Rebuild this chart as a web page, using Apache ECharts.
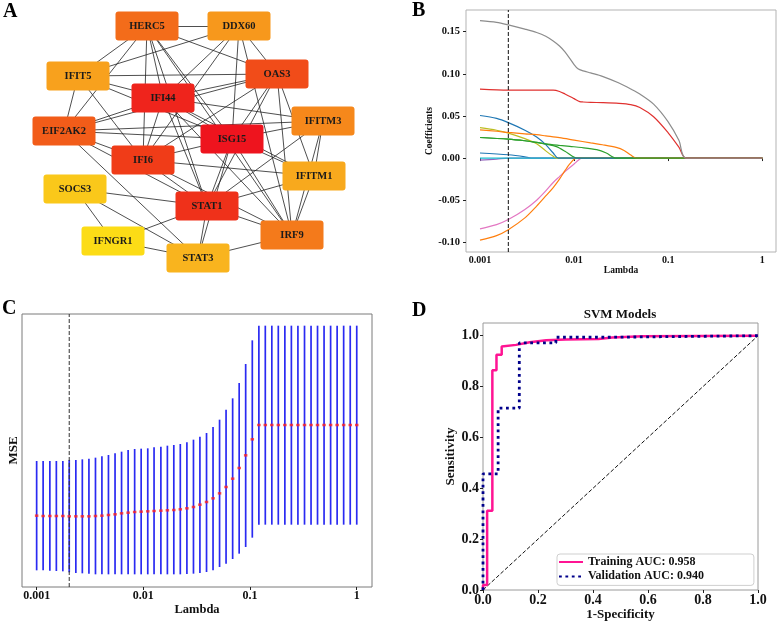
<!DOCTYPE html>
<html>
<head>
<meta charset="UTF-8" />
<title>Hub genes / LASSO / SVM</title>
<script src="https://cdn.jsdelivr.net/npm/echarts@6.0.0/dist/echarts.min.js"></script>
<style>
* { margin: 0; padding: 0; }
html, body { background: #fff; }
#main { width: 777px; height: 622px; }
</style>
</head>
<body>
<div id="main"></div>
<script>
const serif = 'Liberation Serif'

// ---------- A: PPI network (node layout on a hidden 380x300 plane)
const genes  = ['HERC5','DDX60','IFIT5','OAS3','IFI44','IFITM3','EIF2AK2','ISG15','IFI6','IFITM1','SOCS3','STAT1','IRF9','IFNGR1','STAT3']
const geneX  = [147, 239, 78, 277, 163, 323, 64, 232, 143, 314, 75, 207, 292, 113, 198]
const geneY  = [26, 26, 76, 74, 98, 121, 131, 139, 160, 176, 189, 206, 235, 241, 258]
const geneScore = [64, 45, 40, 76, 93, 52, 70, 100, 82, 36, 20, 87, 58, 10, 30]
const ppiLinks = [
  ['HERC5','DDX60'],['HERC5','IFIT5'],['HERC5','EIF2AK2'],['HERC5','OAS3'],['HERC5','IFI44'],['HERC5','IFI6'],['HERC5','ISG15'],['HERC5','STAT1'],['HERC5','IRF9'],
  ['DDX60','IFIT5'],['DDX60','OAS3'],['DDX60','IFI44'],['DDX60','ISG15'],['DDX60','IFI6'],['DDX60','IRF9'],
  ['IFIT5','OAS3'],['IFIT5','IFI44'],['IFIT5','EIF2AK2'],['IFIT5','IFI6'],['IFIT5','ISG15'],
  ['OAS3','IFI44'],['OAS3','EIF2AK2'],['OAS3','IFI6'],['OAS3','ISG15'],['OAS3','STAT1'],['OAS3','IRF9'],['OAS3','IFITM1'],
  ['IFI44','IFITM3'],['IFI44','EIF2AK2'],['IFI44','ISG15'],['IFI44','IFI6'],['IFI44','STAT1'],['IFI44','IRF9'],['IFI44','IFITM1'],
  ['IFITM3','EIF2AK2'],['IFITM3','ISG15'],['IFITM3','STAT1'],['IFITM3','IRF9'],['IFITM3','IFITM1'],
  ['EIF2AK2','ISG15'],['EIF2AK2','IFI6'],['EIF2AK2','STAT1'],['EIF2AK2','STAT3'],
  ['ISG15','IFI6'],['ISG15','STAT1'],['ISG15','IRF9'],['ISG15','IFITM1'],['ISG15','STAT3'],
  ['IFI6','STAT1'],['IFI6','IFITM1'],['IFI6','IRF9'],
  ['IFITM1','STAT1'],['IFITM1','IRF9'],
  ['SOCS3','STAT1'],['SOCS3','IFNGR1'],['SOCS3','STAT3'],
  ['STAT1','IRF9'],['STAT1','STAT3'],['STAT1','IFNGR1'],
  ['IRF9','STAT3'],['IFNGR1','STAT3']
]
const scorePalette = ['#fcdc16','#f9b81e','#f7961c','#f36c1a','#f03c18','#ee141e']

// ---------- B: LASSO coefficient paths [lambda, coef]
const pathDarkBlue = [[0.001,0.006],[0.002,0.0039],[0.003,0.0015],[0.0035,0],[1,0]]
const pathPurple   = [[0.001,-0.0025],[0.0015,-0.0012],[0.002,0],[1,0]]
const pathCyan     = [[0.001,0],[1,0]]
const pathOlive    = [[0.001,0.036],[0.0015,0.033],[0.002,0.0296],[0.003,0.023],[0.004,0.017],[0.005,0.0085],[0.006,0.002],[0.0065,0],[1,0]]
const pathPink     = [[0.001,-0.084],[0.0015,-0.079],[0.002,-0.073],[0.003,-0.061],[0.004,-0.05],[0.005,-0.039],[0.006,-0.029],[0.007,-0.022],[0.008,-0.016],[0.01,-0.007],[0.011,-0.003],[0.012,0],[1,0]]
const pathOrangeLo = [[0.001,-0.0975],[0.0015,-0.092],[0.002,-0.085],[0.003,-0.071],[0.004,-0.057],[0.005,-0.045],[0.006,-0.035],[0.007,-0.025],[0.008,-0.015],[0.009,-0.007],[0.0106,0],[1,0]]
const pathGreenB   = [[0.001,0.0244],[0.002,0.0225],[0.003,0.0205],[0.004,0.0185],[0.005,0.0165],[0.0065,0.0135],[0.008,0.008],[0.0095,0.0025],[0.0106,0],[1,0]]
const pathBlue     = [[0.001,0.0505],[0.0015,0.047],[0.002,0.042],[0.003,0.033],[0.004,0.025],[0.005,0.016],[0.006,0.006],[0.0068,0],[1,0]]
const pathOrangeUp = [[0.001,0.0335],[0.0015,0.0318],[0.002,0.0304],[0.003,0.0288],[0.004,0.0277],[0.005,0.0263],[0.007,0.0242],[0.01,0.0213],[0.015,0.018],[0.02,0.0158],[0.028,0.0126],[0.034,0.009],[0.04,0.0035],[0.046,0],[1,0]]
const pathGreenA   = [[0.001,0.0244],[0.002,0.0225],[0.003,0.0205],[0.004,0.0185],[0.005,0.0168],[0.007,0.015],[0.009,0.0138],[0.012,0.0125],[0.0174,0.0099],[0.022,0.006],[0.028,0],[1,0]]
const pathRed      = [[0.001,0.0818],[0.002,0.0805],[0.004,0.0805],[0.006,0.0805],[0.007,0.079],[0.008,0.076],[0.01,0.0705],[0.0115,0.067],[0.0125,0.0665],[0.015,0.066],[0.02,0.0658],[0.03,0.065],[0.04,0.0635],[0.05,0.06],[0.07,0.049],[0.1,0.03],[0.13,0.013],[0.155,0],[1,0]]
const pathGray     = [[0.001,0.163],[0.0015,0.161],[0.002,0.158],[0.003,0.153],[0.004,0.149],[0.005,0.1445],[0.006,0.139],[0.007,0.133],[0.008,0.126],[0.01,0.111],[0.011,0.106],[0.0125,0.1035],[0.015,0.101],[0.02,0.097],[0.03,0.089],[0.04,0.082],[0.05,0.076],[0.07,0.064],[0.1,0.043],[0.13,0.021],[0.155,0],[1,0]]
const bestLambda = 0.002
const lassoCoefRange = [-0.1115, 0.1757]

// ---------- C: cross-validation MSE
const cvLambda = [0.001,0.00115,0.00133,0.00153,0.00176,0.00202,0.00233,0.00268,0.00309,0.00356,
  0.00409,0.00471,0.00543,0.00625,0.0072,0.00829,0.00954,0.011,0.0126,0.0146,
  0.0168,0.0193,0.0222,0.0256,0.0295,0.0339,0.0391,0.045,0.0518,0.0596,
  0.0687,0.0791,0.091,0.105,0.121,0.139,0.16,0.184,0.212,0.244,
  0.281,0.324,0.373,0.429,0.494,0.569,0.655,0.754,0.869,1]
const cvMean = [0.214,0.213,0.213,0.213,0.213,0.212,0.212,0.212,0.212,0.213,
  0.214,0.216,0.218,0.221,0.223,0.225,0.226,0.227,0.228,0.229,
  0.230,0.231,0.233,0.236,0.240,0.247,0.255,0.266,0.281,0.300,
  0.325,0.357,0.395,0.443,0.486,0.486,0.486,0.486,0.486,0.486,
  0.486,0.486,0.486,0.486,0.486,0.486,0.486,0.486,0.486,0.486]
const cvUpper = [0.378,0.378,0.378,0.378,0.378,0.381,0.381,0.383,0.385,0.388,
  0.392,0.396,0.401,0.406,0.411,0.414,0.415,0.416,0.419,0.421,
  0.424,0.426,0.429,0.434,0.442,0.451,0.462,0.480,0.502,0.532,
  0.566,0.612,0.669,0.740,0.784,0.784,0.784,0.784,0.784,0.784,
  0.784,0.784,0.784,0.784,0.784,0.784,0.784,0.784,0.784,0.784]
const cvLower = [0.050,0.050,0.049,0.048,0.047,0.044,0.042,0.041,0.040,0.038,
  0.038,0.038,0.038,0.038,0.038,0.038,0.038,0.038,0.038,0.038,
  0.038,0.038,0.038,0.039,0.040,0.042,0.045,0.050,0.060,0.070,
  0.084,0.100,0.120,0.148,0.187,0.187,0.187,0.187,0.187,0.187,
  0.187,0.187,0.187,0.187,0.187,0.187,0.187,0.187,0.187,0.187]
const cvMseRange = [0, 0.819]

// ---------- D: ROC curves
const trainFpr = [0, 0, 0.015, 0.015, 0.034, 0.034, 0.049, 0.049, 0.068, 0.068, 0.12, 0.17, 0.23, 0.3, 0.42, 0.47, 0.58, 1]
const trainTpr = [0, 0.02, 0.02, 0.312, 0.312, 0.864, 0.864, 0.925, 0.925, 0.958, 0.964, 0.974, 0.982, 0.985, 0.987, 0.993, 0.998, 1]
const validFpr = [0, 0, 0.055, 0.055, 0.132, 0.132, 0.265, 0.265, 0.47, 0.47, 1]
const validTpr = [0, 0.457, 0.457, 0.715, 0.715, 0.972, 0.972, 0.994, 0.994, 1, 1]
const chanceLine = [[0, 0], [1, 1]]
const trainName = 'Training AUC: 0.958'
const validName = 'Validation AUC: 0.940'

let chart = echarts.init(document.getElementById('main'))

let txt = { fontFamily: serif, fontWeight: 'bold', color: '#111' }
let tick = { show: true, length: 3, lineStyle: { color: '#222', width: 1 } }
// cytoscape-like box with small corner radius
let nodeBox = 'path://M3,0 L60,0 Q63,0 63,3 L63,26 Q63,29 60,29 L3,29 Q0,29 0,26 L0,3 Q0,0 3,0 Z'

function lassoLine(data, color) {
  return {
    type: 'line', xAxisIndex: 0, yAxisIndex: 0, data: data,
    smooth: 0.3, showSymbol: false, symbol: 'none',
    lineStyle: { color: color, width: 1.2 }, silent: true
  }
}

let lassoSeries = [
  lassoLine(pathDarkBlue, '#1f77b4'),
  lassoLine(pathPurple, '#9467bd'),
  lassoLine(pathCyan, '#17becf'),
  lassoLine(pathOlive, '#bcbd22'),
  lassoLine(pathPink, '#e377c2'),
  lassoLine(pathOrangeLo, '#ff7f0e'),
  lassoLine(pathGreenB, '#2ca02c'),
  lassoLine(pathBlue, '#1f77b4'),
  lassoLine(pathOrangeUp, '#ff7f0e'),
  lassoLine(pathGreenA, '#2ca02c'),
  lassoLine(pathRed, '#e0312f'),
  lassoLine(pathGray, '#8c8c8c'),
  {
    type: 'line', xAxisIndex: 0, yAxisIndex: 0, silent: true, symbol: 'none',
    data: lassoCoefRange.map(v => [bestLambda, v]),
    lineStyle: { color: '#111', type: [4, 2], width: 1 }
  }
]

let option = {
  animation: false,
  backgroundColor: '#fff',
  grid: [
    { left: 466, top: 10, width: 310, height: 242, show: true, borderColor: '#b3b3b3', borderWidth: 1, outerBoundsMode: 'none' },
    { left: 22, top: 314, width: 350, height: 273, show: true, borderColor: '#7a7a7a', borderWidth: 1, outerBoundsMode: 'none' },
    { left: 483, top: 323, width: 275, height: 267, show: true, borderColor: '#9a9a9a', borderWidth: 1, outerBoundsMode: 'none' },
    { left: 0, top: 0, width: 380, height: 300, outerBoundsMode: 'none' }
  ],
  xAxis: [
    {
      gridIndex: 0, type: 'log', logBase: 10, min: 0.00071, max: 1.4,
      axisLine: { show: false }, splitLine: { show: false },
      axisTick: Object.assign({ customValues: [0.001, 0.01, 0.1, 1] }, tick),
      axisLabel: Object.assign({ customValues: [0.001, 0.01, 0.1, 1], fontSize: 10, margin: 3, formatter: v => String(+(+v).toPrecision(3)) }, txt),
      name: 'Lambda', nameLocation: 'middle', nameGap: 11, nameTextStyle: Object.assign({ fontSize: 9.5 }, txt)
    },
    {
      gridIndex: 1, type: 'log', logBase: 10, min: 0.000729, max: 1.39,
      axisLine: { show: false }, splitLine: { show: false },
      axisTick: Object.assign({ customValues: [0.001, 0.01, 0.1, 1] }, tick),
      axisLabel: Object.assign({ customValues: [0.001, 0.01, 0.1, 1], fontSize: 12, margin: 3, formatter: v => String(+(+v).toPrecision(3)) }, txt),
      name: 'Lambda', nameLocation: 'middle', nameGap: 15, nameTextStyle: Object.assign({ fontSize: 12.5 }, txt)
    },
    {
      gridIndex: 2, type: 'value', min: 0, max: 1,
      axisLine: { show: false }, splitLine: { show: false },
      axisTick: Object.assign({ customValues: [0, 0.2, 0.4, 0.6, 0.8, 1] }, tick),
      axisLabel: Object.assign({ customValues: [0, 0.2, 0.4, 0.6, 0.8, 1], fontSize: 14, margin: 3, formatter: v => (+v).toFixed(1) }, txt),
      name: '1-Specificity', nameLocation: 'middle', nameGap: 17, nameTextStyle: Object.assign({ fontSize: 13 }, txt)
    },
    { gridIndex: 3, type: 'value', min: 0, max: 380, show: false }
  ],
  yAxis: [
    {
      gridIndex: 0, type: 'value', min: lassoCoefRange[0], max: lassoCoefRange[1],
      axisLine: { show: false }, splitLine: { show: false },
      axisTick: Object.assign({ customValues: [-0.1, -0.05, 0, 0.05, 0.1, 0.15] }, tick),
      axisLabel: Object.assign({ customValues: [-0.1, -0.05, 0, 0.05, 0.1, 0.15], fontSize: 10.5, margin: 6, formatter: v => (+v).toFixed(2) }, txt),
      name: 'Coefficients', nameLocation: 'middle', nameGap: 27, nameRotate: 90, nameTextStyle: Object.assign({ fontSize: 9.5 }, txt)
    },
    {
      gridIndex: 1, type: 'value', min: cvMseRange[0], max: cvMseRange[1],
      axisLine: { show: false }, splitLine: { show: false }, axisTick: { show: false }, axisLabel: { show: false },
      name: 'MSE', nameLocation: 'middle', nameGap: 2, nameRotate: 90, nameTextStyle: Object.assign({ fontSize: 13 }, txt)
    },
    {
      gridIndex: 2, type: 'value', min: 0, max: 1.05,
      axisLine: { show: false }, splitLine: { show: false },
      axisTick: Object.assign({ customValues: [0, 0.2, 0.4, 0.6, 0.8, 1] }, tick),
      axisLabel: Object.assign({ customValues: [0, 0.2, 0.4, 0.6, 0.8, 1], fontSize: 14, margin: 4, formatter: v => (+v).toFixed(1) }, txt),
      name: 'Sensitivity', nameLocation: 'middle', nameGap: 24, nameRotate: 90, nameTextStyle: Object.assign({ fontSize: 13 }, txt)
    },
    { gridIndex: 3, type: 'value', min: 0, max: 300, inverse: true, show: false }
  ],
  legend: {
    data: [trainName, validName],
    orient: 'vertical', left: 557, top: 554,
    backgroundColor: '#fff', borderColor: '#cfcfcf', borderWidth: 1, borderRadius: 3,
    padding: [2, 50, 3, 1], itemGap: 2.4, itemWidth: 24, itemHeight: 12,
    itemStyle: { color: 'transparent', borderColor: 'transparent', borderWidth: 0, opacity: 0 },
    textStyle: Object.assign({ fontSize: 12 }, txt),
    selectedMode: false
  },
  graphic: [
    { type: 'text', left: 3, top: 2, style: { text: 'A', font: 'bold 20px "Liberation Serif"', fill: '#000' } },
    { type: 'text', left: 412, top: 1, style: { text: 'B', font: 'bold 20px "Liberation Serif"', fill: '#000' } },
    { type: 'text', left: 2, top: 299, style: { text: 'C', font: 'bold 20px "Liberation Serif"', fill: '#000' } },
    { type: 'text', left: 412, top: 301, style: { text: 'D', font: 'bold 20px "Liberation Serif"', fill: '#000' } },
    { type: 'text', x: 620, y: 315, style: { text: 'SVM Models', font: 'bold 13px "Liberation Serif"', fill: '#111', align: 'center', verticalAlign: 'middle' } }
  ],
  series: lassoSeries.concat([
    {
      type: 'custom', xAxisIndex: 1, yAxisIndex: 1, silent: true,
      data: cvLambda.map((l, i) => [l, cvLower[i], cvUpper[i]]),
      encode: { x: 0, y: [1, 2] },
      renderItem: function (params, api) {
        let p1 = api.coord([api.value(0), api.value(1)])
        let p2 = api.coord([api.value(0), api.value(2)])
        return { type: 'line', shape: { x1: p1[0], y1: p1[1], x2: p2[0], y2: p2[1] }, style: { stroke: '#2a2af2', lineWidth: 1.7 } }
      }
    },
    {
      type: 'scatter', xAxisIndex: 1, yAxisIndex: 1, silent: true,
      symbol: 'rect', symbolSize: [3.5, 2.5], itemStyle: { color: '#ff2020' },
      data: cvLambda.map((l, i) => [l, cvMean[i]])
    },
    {
      type: 'line', xAxisIndex: 1, yAxisIndex: 1, silent: true, symbol: 'none',
      data: cvMseRange.map(v => [cvLambda[5], v]),
      lineStyle: { color: '#333', type: [4, 2], width: 1 }
    },
    {
      type: 'line', xAxisIndex: 2, yAxisIndex: 2, data: chanceLine, silent: true,
      symbol: 'none', lineStyle: { color: '#111', width: 1, type: [4, 2] }
    },
    {
      name: trainName, type: 'line', xAxisIndex: 2, yAxisIndex: 2, silent: true,
      data: trainFpr.map((f, i) => [f, trainTpr[i]]),
      symbol: 'none', itemStyle: { color: '#ff1493' },
      lineStyle: { color: '#ff1493', width: 2.5 }
    },
    {
      name: validName, type: 'line', xAxisIndex: 2, yAxisIndex: 2, silent: true,
      data: validFpr.map((f, i) => [f, validTpr[i]]),
      symbol: 'none', itemStyle: { color: '#00008b' },
      lineStyle: { color: '#00008b', width: 2.8, type: [2.8, 3.6] }
    },
    {
      type: 'graph', coordinateSystem: 'cartesian2d', xAxisIndex: 3, yAxisIndex: 3,
      symbol: nodeBox, symbolSize: [63, 29], symbolKeepAspect: false, silent: true,
      data: genes.map((g, i) => ({
        name: g, value: [geneX[i], geneY[i]],
        itemStyle: { color: echarts.color.lerp((geneScore[i] - 10) / 90, scorePalette) }
      })),
      links: ppiLinks.map(l => ({ source: l[0], target: l[1] })),
      lineStyle: { color: '#222', width: 0.8, opacity: 1 },
      label: { show: true, position: 'inside', fontSize: 10.5, color: '#1a1a1a', fontFamily: serif, fontWeight: 'bold' },
      emphasis: { disabled: true }
    }
  ])
}

chart.setOption(option)
</script>
</body>
</html>
